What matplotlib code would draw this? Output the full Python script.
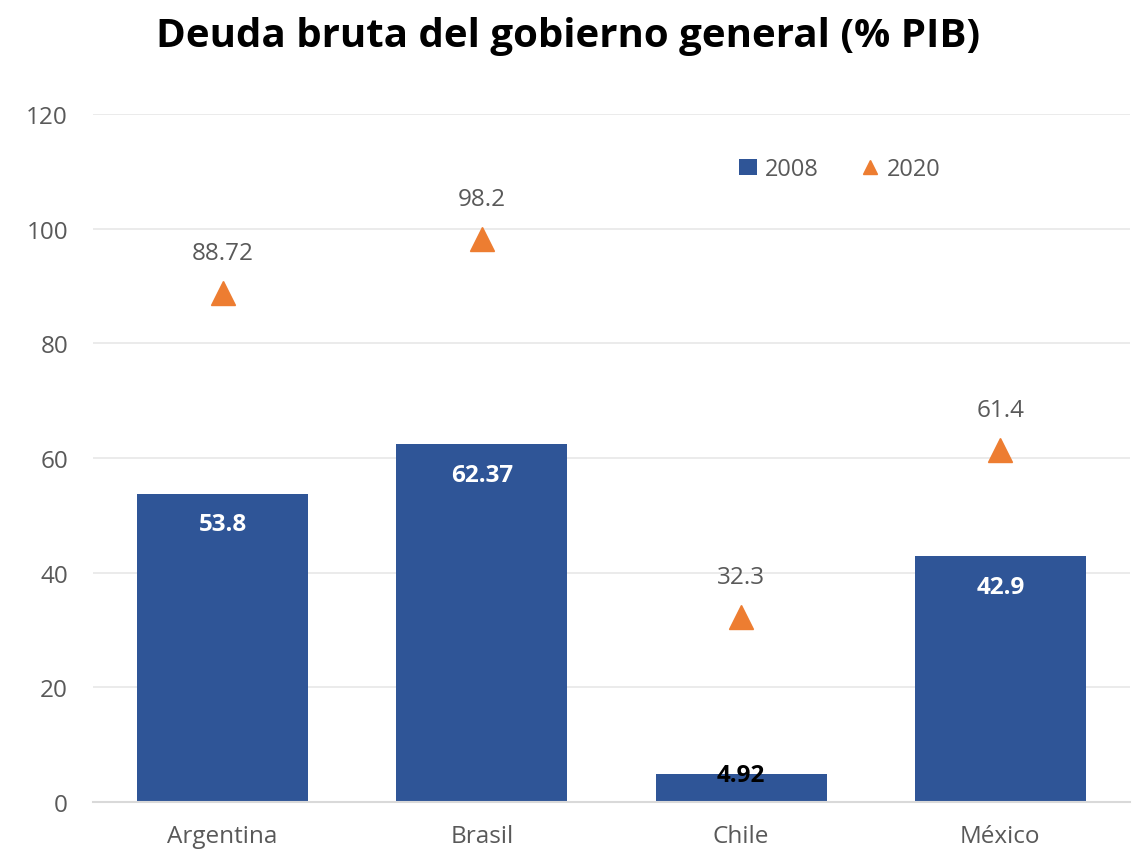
import numpy as np
import matplotlib.pyplot as plt

plt.rcParams['font.family'] = ['Open Sans', 'DejaVu Sans']

# datos
paises = ['Argentina', 'Brasil', 'Chile', 'México']
deuda_2008 = [53.8, 62.37, 4.92, 42.9]
deuda_2020 = [88.72, 98.2, 32.3, 61.4]

azul = '#2f5597'
naranja = '#ed7d31'
gris = '#595959'

fig = plt.figure(figsize=(11.37, 8.54), dpi=100)
ax = fig.add_axes([0.0818, 0.0597, 0.912, 0.8056])

x = np.arange(len(paises))
bars = ax.bar(x, deuda_2008, width=0.66, color=azul, label='2008', zorder=2)
tri, = ax.plot(x, deuda_2020, linestyle='none', marker='^', markersize=17,
               color=naranja, label='2020', zorder=3)

# etiquetas de las barras
for xi, v in zip(x, deuda_2008):
    if v > 10:
        ax.annotate(f'{v:g}', (xi, v), xytext=(0, -22), textcoords='offset points',
                    ha='center', va='center', color='white', fontsize=17.5, fontweight='bold')
    else:
        ax.annotate(f'{v:g}', (xi, v), xytext=(0, -1), textcoords='offset points',
                    ha='center', va='center', color='black', fontsize=17.5, fontweight='bold')

# etiquetas de los triangulos
for xi, v in zip(x, deuda_2020):
    ax.annotate(f'{v:g}', (xi, v), xytext=(0, 29), textcoords='offset points',
                ha='center', va='center', color=gris, fontsize=17.5)

ax.set_xlim(-0.5, 3.5)
ax.set_ylim(0, 120)
ax.set_yticks(range(0, 121, 20))
ax.set_xticks(x)
ax.set_xticklabels(paises)
ax.tick_params(axis='both', length=0, labelsize=17.5, labelcolor=gris)
ax.tick_params(axis='x', pad=16)
ax.tick_params(axis='y', pad=18)

ax.grid(axis='y', color='#e8e8e8', linewidth=1.2, zorder=0)
ax.set_axisbelow(True)
for s in ['top', 'right', 'left']:
    ax.spines[s].set_visible(False)
ax.spines['bottom'].set_color('#d9d9d9')
ax.spines['bottom'].set_linewidth(1.5)

leg = ax.legend([bars, tri], ['2008', '2020'], loc='center',
                bbox_to_anchor=(0.72, 0.92), ncol=2, frameon=False,
                fontsize=17, handlelength=0.8, handletextpad=0.3, columnspacing=1.8,
                markerscale=0.6)
for t in leg.get_texts():
    t.set_color(gris)

fig.suptitle('Deuda bruta del gobierno general (% PIB)', fontsize=29,
             fontweight='bold', y=0.98)

fig.savefig('out.png', dpi=100)
